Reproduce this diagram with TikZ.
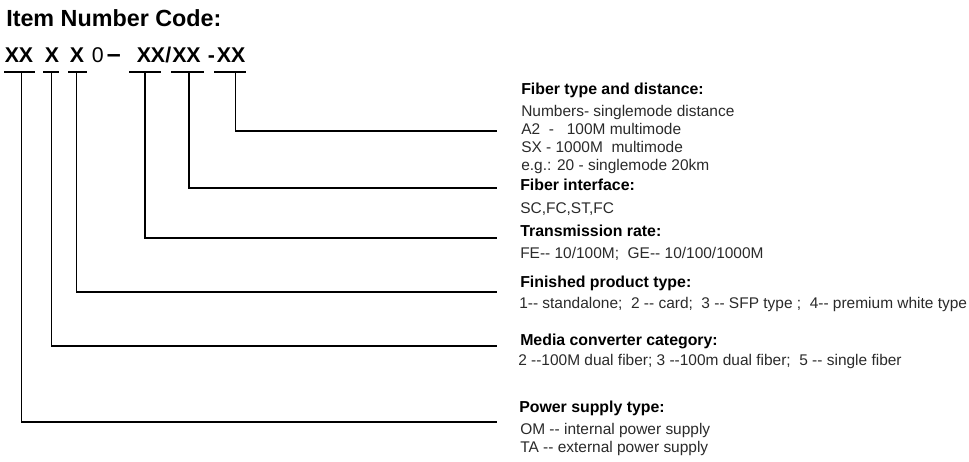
\documentclass[tikz,border=0pt]{standalone}
\usepackage{fontspec}
\setmainfont{Liberation Sans}[Ligatures=TeXOff]
\definecolor{bodygray}{HTML}{2A2A2A}

\begin{document}
\begin{tikzpicture}[x=0.75pt,y=-0.75pt,
    code/.style={inner sep=0pt,anchor=base west,font=\fontsize{16}{18}\selectfont\bfseries},
    coderm/.style={inner sep=0pt,anchor=base west,font=\fontsize{16}{18}\selectfont},
    head/.style={inner sep=0pt,anchor=base west,font=\fontsize{11.9}{14}\selectfont\bfseries},
    body/.style={inner sep=0pt,anchor=base west,text=bodygray,font=\fontsize{11.6}{14}\selectfont},
    uline/.style={line width=1.5pt},
    wire/.style={line width=1.1pt}]
  \useasboundingbox (0,0) rectangle (969,461);
  \node[inner sep=0pt,anchor=base west,font=\fontsize{17.5}{20}\selectfont\bfseries] (title) at (6,26) {Item Number Code:};
  % code groups
  \node[code] (c1) at (4.5,62.5) {XX};
  \node[code] (c2) at (44.5,62.5) {X};
  \node[code] (c3) at (69.5,62.5) {X};
  \node[coderm] (zero) at (91.5,62.5) {0};
  \node[code,font=\fontsize{18.8}{20}\selectfont\bfseries] (dash) at (106.5,62.5) {–};
  \node[code] (c4) at (136.5,62.5) {XX};
  \node[code] (slash) at (165,62.5) {/};
  \node[code] (c5) at (172,62.5) {XX};
  \node[code] (minus) at (207.5,62.5) {-};
  \node[code] (c6) at (216.5,62.5) {XX};
  \draw[uline] (4,72) -- (35,72) (43,72) -- (59,72) (68,72) -- (87,72)
    (129,72) -- (161,72) (171,72) -- (204,72) (214,72) -- (246,72);
  % labels
  \node[head] (h6) at (521,94) {Fiber type and distance:};
  \node[body] (b6a) at (521,116) {Numbers- singlemode distance};
  \node[body] (b6b) at (521,134) {A2 \ - \ \ 100M multimode};
  \node[body] (b6c) at (521,152) {SX - 1000M \ multimode};
  \node[body] (b6d) at (521,170) {e.g.: 20 - singlemode 20km};
  \node[head] (h5) at (520,190) {Fiber interface:};
  \node[body] (b5) at (520,213) {SC,FC,ST,FC};
  \node[head] (h4) at (520,236) {Transmission rate:};
  \node[body] (b4) at (520,258) {FE-- 10/100M; \ GE-- 10/100/1000M};
  \node[head] (h3) at (520,287) {Finished product type:};
  \node[body] (b3) at (519,308) {1-- standalone; \ 2 -- card; \ 3 -- SFP type ; \ 4-- premium white type};
  \node[head] (h2) at (520,345) {Media converter category:};
  \node[body] (b2) at (518,365) {2 --100M dual fiber; 3 --100m dual fiber; \ 5 -- single fiber};
  \node[head] (h1) at (519,412) {Power supply type:};
  \node[body] (b1a) at (520,434) {OM -- internal power supply};
  \node[body] (b1b) at (520,452) {TA -- external power supply};
  % connectors
  \coordinate (k1) at (21.7,72);  \coordinate (e1) at (497,422);
  \coordinate (k2) at (51.7,72);  \coordinate (e2) at (497,346);
  \coordinate (k3) at (76.7,72);  \coordinate (e3) at (497,292);
  \coordinate (k4) at (145,72);   \coordinate (e4) at (497,238);
  \coordinate (k5) at (189,72);   \coordinate (e5) at (497,188);
  \coordinate (k6) at (235.7,72); \coordinate (e6) at (497,131);
  \draw[wire] (k1) |- (e1) (k2) |- (e2) (k3) |- (e3)
    (k4) |- (e4) (k5) |- (e5) (k6) |- (e6);
\end{tikzpicture}
\end{document}
